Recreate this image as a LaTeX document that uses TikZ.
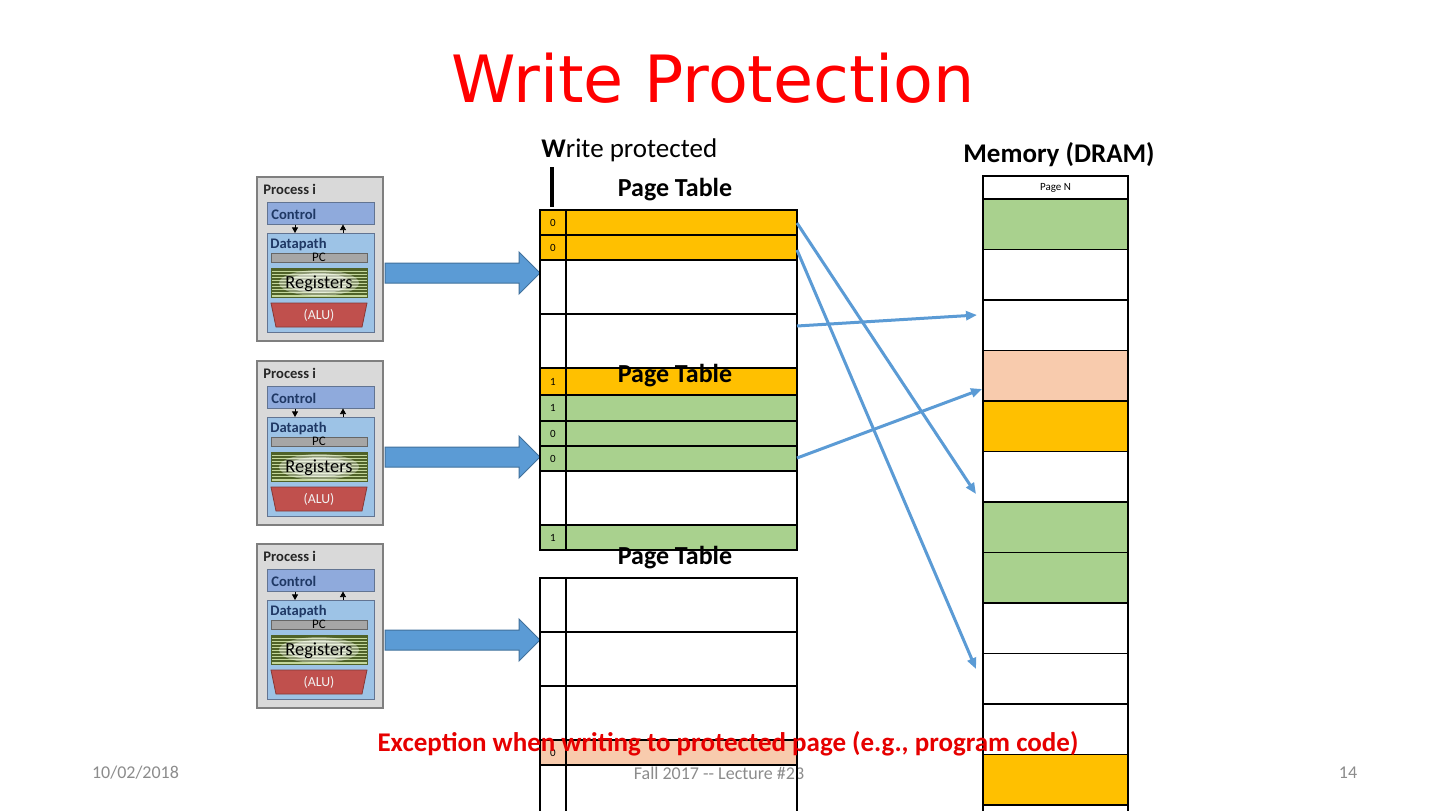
\documentclass[tikz,border=0pt]{standalone}
\usepackage{fontspec}
\setmainfont{Carlito}
\newfontfamily\titlefont{DejaVu Sans}
\usetikzlibrary{arrows.meta,calc}
\definecolor{ptorange}{HTML}{FFC000}
\definecolor{ptgreen}{HTML}{A9D18E}
\definecolor{ptpeach}{HTML}{F8CBAD}
\definecolor{linkblue}{HTML}{5B9BD5}
\definecolor{linkdark}{HTML}{41719C}
\definecolor{procgray}{HTML}{D9D9D9}
\definecolor{procedge}{HTML}{7F7F7F}
\definecolor{ctrlfill}{HTML}{8FAADC}
\definecolor{dpfill}{HTML}{9DC3E6}
\definecolor{navytext}{HTML}{1F3864}
\definecolor{pcfill}{HTML}{A6A6A6}
\definecolor{regfill}{HTML}{C4D79B}
\definecolor{regline}{HTML}{4F6228}
\definecolor{alufill}{HTML}{C0504D}
\definecolor{footgray}{HTML}{8C8C8C}
\definecolor{titlered}{HTML}{FF0000}
\definecolor{excred}{HTML}{E60000}
\tikzset{
  cellbox/.style={draw=black, line width=0.8pt, anchor=north west, inner sep=0pt, outer sep=0pt},
  digit/.style={font=\fontsize{5.5}{6}\selectfont, inner sep=0pt},
  pttitle/.style={font=\bfseries\fontsize{13}{15}\selectfont, inner sep=0pt},
  link/.style={draw=linkblue, line width=1.5pt, -{Triangle[length=5.5pt,width=4.5pt]}},
  procouter/.style={draw=procedge, fill=procgray, line width=0.6pt, minimum width=63pt, minimum height=82pt, inner sep=0pt},
  ctrlbox/.style={draw=navytext!70, fill=ctrlfill, line width=0.4pt, minimum width=53.5pt, minimum height=11pt, inner sep=0pt},
  dpbox/.style={draw=navytext!70, fill=dpfill, line width=0.4pt, minimum width=53.5pt, minimum height=49.5pt, inner sep=0pt},
  pcbox/.style={draw=black!60, fill=pcfill, line width=0.4pt, minimum width=48pt, minimum height=4.5pt, inner sep=0pt, font=\fontsize{6.5}{6.5}\selectfont},
  regbox/.style={draw=regline, fill=regfill, line width=0.4pt, minimum width=48pt, minimum height=14.5pt, inner sep=0pt},
  proclabel/.style={anchor=west, inner sep=0pt, font=\bfseries\fontsize{7.3}{8}\selectfont},
  smallarr/.style={line width=0.4pt, -{Triangle[length=2.8pt,width=3pt]}},
  fatarrow/.style={fill=linkblue, draw=linkdark, line width=0.5pt},
  footer/.style={text=footgray, font=\fontsize{9}{10}\selectfont, inner sep=0pt}
}
\newcommand\ptrow[5]{%
  \node[cellbox, fill=#4, minimum width=128.5pt, minimum height={(#3-#2)*0.5pt}] (#1) at (540,#2) {};
  \draw[line width=0.8pt] (566,#2) -- (566,#3);
  \node[digit] (#1d) at (553,{(#2+#3)/2}) {#5};}
\newcommand\memrow[5]{%
  \node[cellbox, fill=#4, minimum width=72.5pt, minimum height={(#3-#2)*0.5pt}] (#1) at (983,#2) {};
  \node[digit] (#1t) at ({983+72.5},{(#2+#3)/2}) {#5};}
\newcommand\procbox[2]{%
  \begin{scope}[shift={(0,#2)}]
    \node[procouter] (#1box) at (320,259) {};
    \node[proclabel, text=black!85] (#1lab) at (263,189) {Process i};
    \node[ctrlbox] (#1ctrl) at (320.5,213) {};
    \node[proclabel, text=navytext] (#1ctrlt) at (271,214) {Control};
    \draw[smallarr] (295,224.5) -- (295,233);
    \draw[smallarr] (343,233) -- (343,224.5);
    \node[dpbox] (#1dp) at (320.5,282.5) {};
    \node[proclabel, text=navytext] (#1dpt) at (270,245) {Datapath};
    \node[pcbox] (#1pc) at (319,257.5) {PC};
    \node[regbox] (#1reg) at (319,282.5) {};
    \foreach \yy in {270,273,...,296} {\draw[regline, line width=0.6pt] (271,\yy) -- (367,\yy);}
    \fill[white, opacity=0.35] (319,283) ellipse [x radius=40, y radius=13];
    \fill[white, opacity=0.45] (319,283) ellipse [x radius=32, y radius=10];
    \node[inner sep=0pt, font=\fontsize{9.2}{10}\selectfont] (#1regt) at (319,284) {Registers};
    \filldraw[fill=alufill, draw=alufill!70!black, line width=0.4pt] (271,303) -- (367,303) -- (362,327) -- (276,327) -- cycle;
    \node[inner sep=0pt, text=white!95!black, font=\fontsize{6.9}{8}\selectfont] (#1alu) at (319,315) {(ALU)};
    \filldraw[fatarrow] (385,263) -- (519,263) -- (519,252) -- (540,273) -- (519,294) -- (519,283) -- (385,283) -- cycle;
  \end{scope}}
\begin{document}
\begin{tikzpicture}[x=0.5pt,y=-0.5pt]
\useasboundingbox[fill=white] (0,0) rectangle (1440,810);

% title
\node[text=titlered, font=\titlefont\fontsize{32.6}{36}\selectfont, inner sep=0pt] (title) at (713,78) {Write Protection};

% footer
\node[footer] (fdate) at (135.5,773) {10/02/2018};
\node[footer] (fmid) at (719,773) {Fall 2017 -{}- Lecture \#23};
\node[footer] (fnum) at (1348,773) {14};

% processes
\procbox{pa}{0}
\procbox{pb}{184}
\procbox{pc}{367}

% page table 1
\ptrow{ta0}{210}{235}{ptorange}{0}
\ptrow{ta1}{235}{260}{ptorange}{0}
\ptrow{ta2}{260}{314}{white}{}
\ptrow{ta3}{314}{368}{white}{}
% page table 2
\ptrow{tb0}{368}{395}{ptorange}{1}
\ptrow{tb1}{395}{421}{ptgreen}{1}
\ptrow{tb2}{421}{446}{ptgreen}{0}
\ptrow{tb3}{446}{471}{ptgreen}{0}
\ptrow{tb4}{471}{525}{white}{}
\ptrow{tb5}{525}{550}{ptgreen}{1}
% page table 3
\ptrow{tc0}{578}{632}{white}{}
\ptrow{tc1}{632}{686}{white}{}
\ptrow{tc2}{686}{740}{white}{}
\ptrow{tc3}{740}{765}{ptpeach}{0}
\draw[line width=1.3pt] (540,765) -- (797,765);
\draw[line width=0.8pt] (540,765) -- (540,830) (566,765) -- (566,830) (797,765) -- (797,830);

\node[pttitle] (pta) at (675,190) {Page Table};
\node[pttitle] (ptb) at (675,376) {Page Table};
\node[pttitle] (ptc) at (675,558) {Page Table};

% write protected label
\node[anchor=west, inner sep=0pt, font=\fontsize{13.5}{15}\selectfont] (wp) at (541,150) {\textbf{W}rite protected};
\coordinate (wbtop) at (552,167);
\coordinate (wbbot) at (552,207);
\draw[line width=1.6pt] (wbtop) -- (wbbot);

% memory
\node[pttitle, font=\bfseries\fontsize{13.5}{15}\selectfont] (memt) at (1059,155) {Memory (DRAM)};
\memrow{mN}{176}{199}{white}{Page N}
\memrow{m1}{199}{249.5}{ptgreen}{}
\memrow{m2}{249.5}{300}{white}{}
\memrow{m3}{300}{350.5}{white}{}
\memrow{m4}{350.5}{401}{ptpeach}{}
\memrow{m5}{401}{451.5}{ptorange}{}
\memrow{m6}{451.5}{502}{white}{}
\memrow{m7}{502}{552.5}{ptgreen}{}
\memrow{m8}{552.5}{603}{ptgreen}{}
\memrow{m9}{603}{653.5}{white}{}
\memrow{m10}{653.5}{704}{white}{}
\memrow{m11}{704}{754.5}{white}{}
\memrow{m12}{754.5}{805}{ptorange}{}
\memrow{m13}{805}{855}{white}{}

% links
\coordinate (s1) at (797,223);
\coordinate (s2) at (797,250);
\coordinate (s3) at (797,326);
\coordinate (s4) at (797,458);
\coordinate (e1) at (976,494);
\coordinate (e2) at (976,669);
\coordinate (e3) at (977,315);
\coordinate (e4) at (982,389);
\draw[link] (s1) -- (e1);
\draw[link] (s2) -- (e2);
\draw[link] (s3) -- (e3);
\draw[link] (s4) -- (e4);

% exception text
\node[text=excred, font=\bfseries\fontsize{13.5}{15}\selectfont, inner sep=0pt] (exc) at (728,744) {Exception when writing to protected page (e.g., program code)};
\end{tikzpicture}
\end{document}
